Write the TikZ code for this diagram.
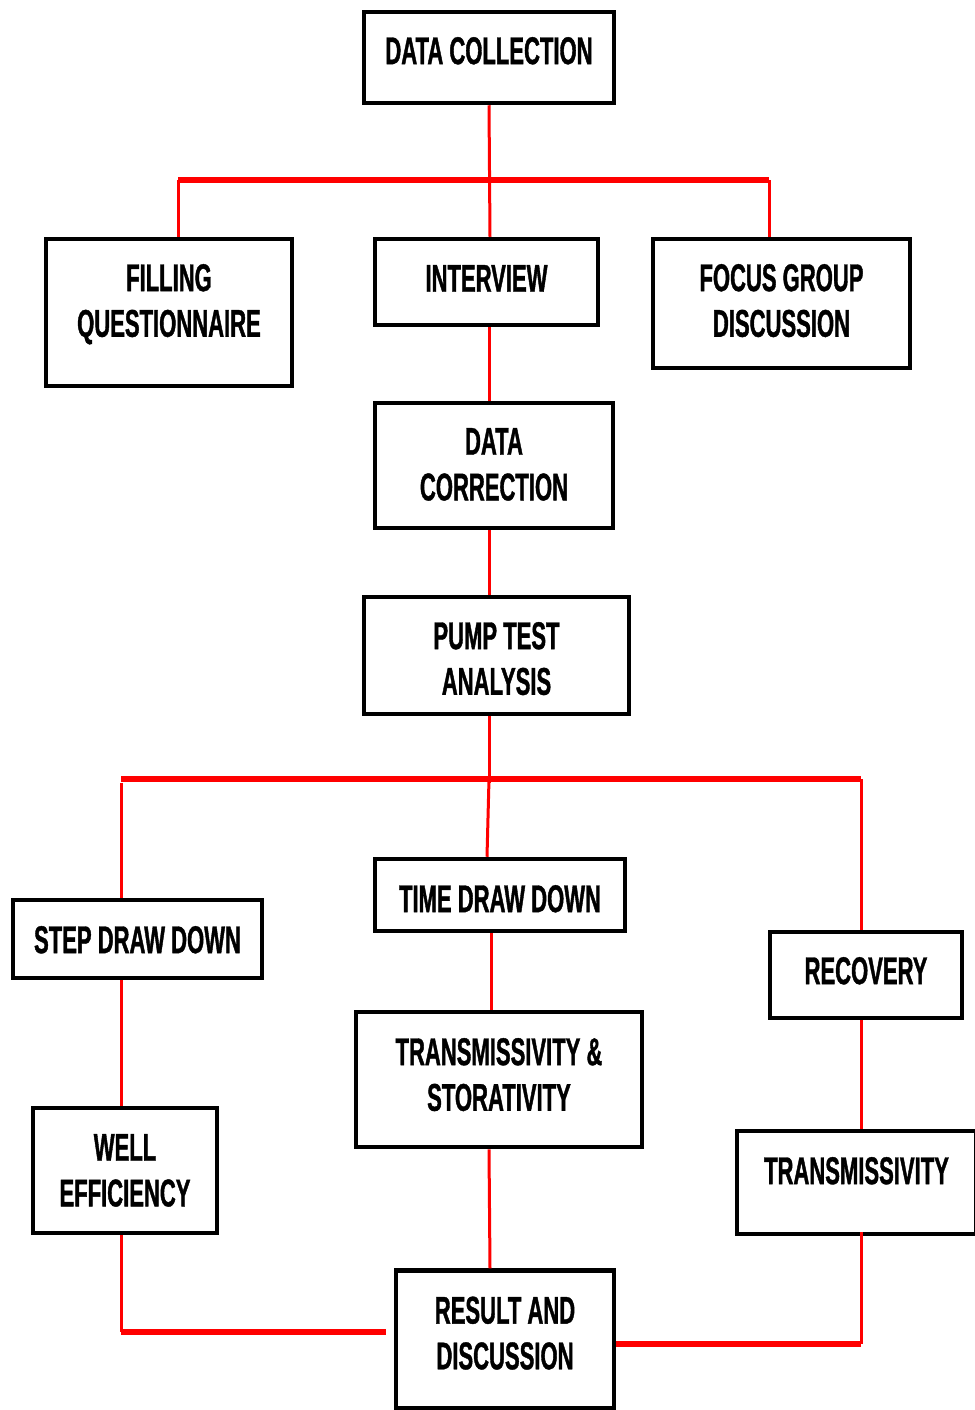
\documentclass[tikz,border=0pt]{standalone}
\usepackage{fontspec}
\setmainfont{Liberation Sans}[FakeStretch=0.57, BoldFeatures={FakeBold=1}]
\newlength{\pxu}
\setlength{\pxu}{0.02cm}

\begin{document}
\begin{tikzpicture}[x=0.02cm, y=-0.02cm,
  box/.style={draw, line width=4.5\pxu, inner sep=0pt},
  txt/.style={anchor=north, inner sep=0pt, align=center, font=\fontsize{22}{26}\selectfont\bfseries},
  wire/.style={red, line width=3\pxu},
  rail/.style={red, line width=5.5\pxu}]
  \useasboundingbox (0,0) rectangle (974,1410);
  % upper part
  \node[box, minimum width=250\pxu, minimum height=91\pxu] (dc) at (489,57.5) {};
  \node[txt] (dc-t) at ([yshift=-27\pxu]dc.north) {DATA COLLECTION};
  \node[box, minimum width=246\pxu, minimum height=147\pxu] (fq) at (169,312.5) {};
  \node[txt] (fq-t) at ([yshift=-27\pxu]fq.north) {FILLING\\QUESTIONNAIRE};
  \node[box, minimum width=223\pxu, minimum height=86\pxu] (iv) at (486.5,282) {};
  \node[txt] (iv-t) at ([yshift=-28\pxu]iv.north) {INTERVIEW};
  \node[box, minimum width=257\pxu, minimum height=129\pxu] (fg) at (781.5,303.5) {};
  \node[txt] (fg-t) at ([yshift=-27\pxu]fg.north) {FOCUS GROUP\\DISCUSSION};
  \node[box, minimum width=238\pxu, minimum height=125\pxu] (dcr) at (494,465.5) {};
  \node[txt] (dcr-t) at ([yshift=-27\pxu]dcr.north) {DATA\\CORRECTION};
  \node[box, minimum width=265\pxu, minimum height=117\pxu] (pta) at (496.5,655.5) {};
  \node[txt] (pta-t) at ([yshift=-27\pxu]pta.north) {PUMP TEST\\ANALYSIS};
  % lower part
  \node[box, minimum width=249\pxu, minimum height=78\pxu] (sdd) at (137.5,939) {};
  \node[txt] (sdd-t) at ([yshift=-28\pxu]sdd.north) {STEP DRAW DOWN};
  \node[box, minimum width=250\pxu, minimum height=72\pxu] (tdd) at (500,895) {};
  \node[txt] (tdd-t) at ([yshift=-28\pxu]tdd.north) {TIME DRAW DOWN};
  \node[box, minimum width=192\pxu, minimum height=86\pxu] (rec) at (866,975) {};
  \node[txt] (rec-t) at ([yshift=-27\pxu]rec.north) {RECOVERY};
  \node[box, minimum width=184\pxu, minimum height=125\pxu] (we) at (125,1170.5) {};
  \node[txt] (we-t) at ([yshift=-28\pxu]we.north) {WELL\\EFFICIENCY};
  \node[box, minimum width=286\pxu, minimum height=135\pxu] (ts) at (499,1079.5) {};
  \node[txt] (ts-t) at ([yshift=-28\pxu]ts.north) {TRANSMISSIVITY \&\\STORATIVITY};
  \node[box, minimum width=239\pxu, minimum height=103\pxu] (tr) at (856.5,1182.5) {};
  \node[txt] (tr-t) at ([yshift=-28\pxu]tr.north) {TRANSMISSIVITY};
  \node[box, minimum width=218\pxu, minimum height=138\pxu] (rd) at (505,1339.5) {};
  \node[txt] (rd-t) at ([yshift=-28\pxu]rd.north) {RESULT AND\\DISCUSSION};
  % junction points
  \coordinate (spine) at (489,0);
  \coordinate (t1) at (178,180);
  \coordinate (t2) at (769,180);
  \coordinate (b1) at (121,779);
  \coordinate (b2) at (861,779);
  \coordinate (m2) at (491,0);
  \coordinate (c1) at (121,1332);
  \coordinate (c2) at (861,1344);
  % upper connectors
  \draw[wire] (spine |- dc.south) -- (iv.north -| 490,0);
  \draw[rail] (t1) -- (t2);
  \draw[wire] (t1) -- (t1 |- fq.north);
  \draw[wire] (t2) -- (t2 |- fg.north);
  \draw[wire] (spine |- iv.south) -- (spine |- dcr.north);
  \draw[wire] (spine |- dcr.south) -- (spine |- pta.north);
  % lower connectors
  \draw[wire] (spine |- pta.south) -- ([yshift=-4\pxu]spine |- b1);
  \draw[rail] (b1) -- (b2);
  \draw[wire] ([yshift=-4\pxu]b1) -- (b1 |- sdd.north);
  \draw[wire] (spine |- b1) -- (tdd.north -| 487,0);
  \draw[wire] (b2) -- (b2 |- rec.north);
  \draw[wire] (b1 |- sdd.south) -- (b1 |- we.north);
  \draw[wire] (m2 |- tdd.south) -- (m2 |- ts.north);
  \draw[wire] (b2 |- rec.south) -- (b2 |- tr.north);
  \draw[wire] (spine |- ts.south) -- ([xshift=1\pxu]spine |- rd.north);
  % into the result box
  \draw[wire] (b1 |- we.south) -- (c1);
  \draw[rail] (c1) -- ([xshift=-8\pxu]c1 -| rd.west);
  \draw[wire] ([yshift=4\pxu]c2 |- tr.south) -- (c2);
  \draw[rail] (c2) -- (c2 -| rd.east);
\end{tikzpicture}
\end{document}
